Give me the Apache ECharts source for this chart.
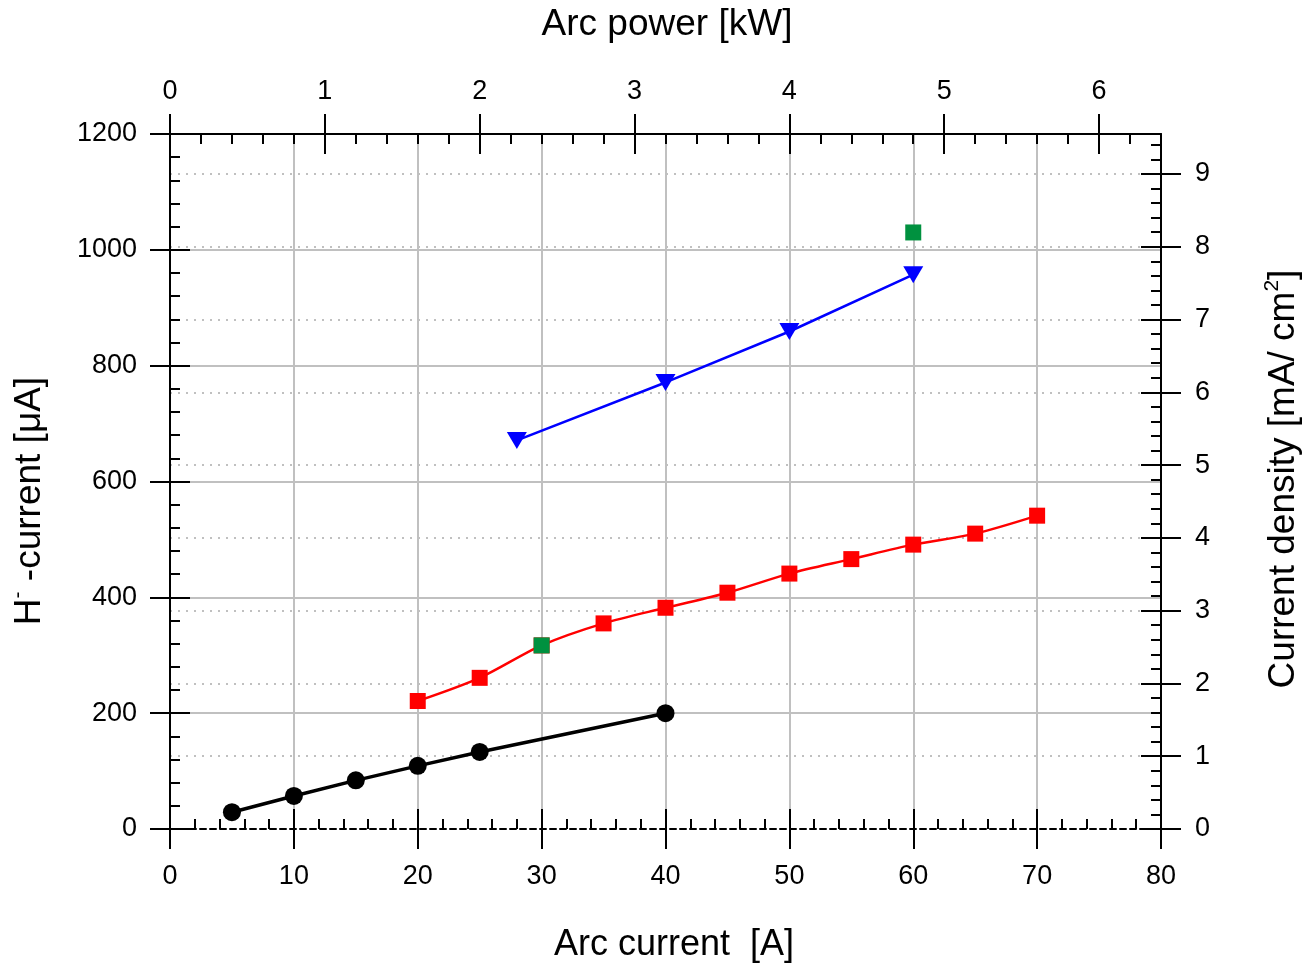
<!DOCTYPE html>
<html><head><meta charset="utf-8">
<script src="https://cdn.jsdelivr.net/npm/echarts@6/dist/echarts.min.js"></script>
<style>html,body{margin:0;padding:0;background:#fff}#c{width:1303px;height:966px}</style>
</head><body><div id="c"></div>
<script>
// ---- data ----
const arcCurrentTicks = [0, 10, 20, 30, 40, 50, 60, 70, 80];
const arcPowerTicks = [0, 1, 2, 3, 4, 5, 6];
const hCurrentTicks = [0, 200, 400, 600, 800, 1000, 1200];
const densityTicks = [0, 1, 2, 3, 4, 5, 6, 7, 8, 9];

const blackX = [5, 10, 15, 20, 25, 40];
const blackY = [29, 57, 84, 109, 133, 200];
const redX = [20, 25, 30, 35, 40, 45, 50, 55, 60, 65, 70];
const redY = [221, 261, 317, 355, 382, 408, 441, 466, 491, 510, 541];
const blueX = [28, 40, 50, 60];
const blueY = [671, 771, 859, 957];
const greenX = [30, 60];
const greenY = [317, 1030];

// axis ranges
const xMax = 80;          // A
const yMax = 1200;        // uA
const powerMax = 6.4;     // kW (80 A x 80 V)
const densityMax = 9.549; // mA/cm^2 (1200 uA / 0.1257 cm^2)

const FONT = '"Liberation Sans", Arial, sans-serif';
const zip = (a, b) => a.map((v, i) => [v, b[i]]);

function ax(o) {
  return Object.assign({
    type: 'value', z: 3,
    axisLine: { show: false, onZero: false },
    axisTick: { show: false },
    axisLabel: { show: false },
    splitLine: { show: false },
    minorTick: { show: false }
  }, o);
}
const LINE = { show: true, onZero: false, lineStyle: { color: '#000', width: 2 } };
const LBL = (m, vals) => Object.assign({ show: true, margin: m, fontSize: 27, color: '#000', fontFamily: FONT,
  formatter: v => String(v) }, vals ? { customValues: vals } : {});
const TICK = (inside, len, vals) => Object.assign({ show: true, inside: inside, length: len, lineStyle: { color: '#000', width: 2 } }, vals ? { customValues: vals } : {});
const MINOR = { show: true, splitNumber: 5, length: 10, lineStyle: { color: '#000', width: 2 } };

const xAxis = [
  // bottom main
  ax({ position: 'bottom', min: 0, max: xMax, interval: 10,
       axisLine: { show: true, onZero: false, lineStyle: { color: '#000', width: 2, type: [6, 4] } },
       axisTick: TICK(false, 20, arcCurrentTicks), axisLabel: LBL(34, arcCurrentTicks) }),
  // bottom inner + minor
  ax({ position: 'bottom', min: 0, max: xMax, interval: 10, axisTick: TICK(true, 20), minorTick: MINOR }),
  // bottom grid
  ax({ position: 'bottom', min: 0, max: xMax, interval: 10, z: 1,
       splitLine: { show: true, showMinLine: false, showMaxLine: false, lineStyle: { color: '#c0c0c0', width: 2 } } }),
  // top main
  ax({ position: 'top', min: 0, max: powerMax, interval: 1, axisLine: LINE,
       axisTick: TICK(false, 20, arcPowerTicks), axisLabel: LBL(29, arcPowerTicks) }),
  // top inner major
  ax({ position: 'top', min: 0, max: powerMax, interval: 1, axisTick: TICK(true, 20, arcPowerTicks) }),
  // top minor
  ax({ position: 'top', min: 0, max: powerMax, interval: 0.2, axisTick: TICK(true, 10) })
];

const yAxis = [
  // left main
  ax({ position: 'left', min: 0, max: yMax, interval: 200, axisLine: LINE,
       axisTick: TICK(false, 20, hCurrentTicks), axisLabel: LBL(33, hCurrentTicks) }),
  // left inner + minor
  ax({ position: 'left', min: 0, max: yMax, interval: 200, axisTick: TICK(true, 20), minorTick: MINOR }),
  // left grid
  ax({ position: 'left', min: 0, max: yMax, interval: 200, z: 1,
       splitLine: { show: true, showMinLine: false, showMaxLine: false, lineStyle: { color: '#c0c0c0', width: 2 } } }),
  // right main
  ax({ position: 'right', min: 0, max: densityMax, interval: 1, axisLine: LINE,
       axisTick: TICK(false, 20, densityTicks), axisLabel: LBL(34, densityTicks) }),
  // right inner major
  ax({ position: 'right', min: 0, max: densityMax, interval: 1, axisTick: TICK(true, 20, densityTicks) }),
  // right minor
  ax({ position: 'right', min: 0, max: densityMax, interval: 0.2, axisTick: TICK(true, 10) }),
  // right dotted grid
  ax({ position: 'right', min: 0, max: densityMax, interval: 1, z: 1,
       splitLine: { show: true, showMinLine: false, showMaxLine: false, lineStyle: { color: '#c0c0c0', width: 2, type: [2, 6] } } })
];

const option = {
  animation: false,
  backgroundColor: '#fff',
  grid: { left: 170, right: 142, top: 134, bottom: 137, containLabel: false },
  xAxis: xAxis,
  yAxis: yAxis,
  series: [
    { type: 'line', name: 'black', xAxisIndex: 0, yAxisIndex: 0, z: 5, data: zip(blackX, blackY),
      symbol: 'circle', symbolSize: 18, itemStyle: { color: '#000' }, lineStyle: { color: '#000', width: 3.5 } },
    { type: 'line', name: 'red', xAxisIndex: 0, yAxisIndex: 0, z: 5, data: zip(redX, redY), smooth: 0.3,
      symbol: 'rect', symbolSize: 16, itemStyle: { color: '#ff0000' }, lineStyle: { color: '#ff0000', width: 2.5 } },
    { type: 'line', name: 'blue', xAxisIndex: 0, yAxisIndex: 0, z: 5, data: zip(blueX, blueY),
      symbol: 'triangle', symbolRotate: 180, symbolSize: [20, 17], itemStyle: { color: '#0000ff' }, lineStyle: { color: '#0000ff', width: 2.5 } },
    { type: 'scatter', name: 'green', xAxisIndex: 0, yAxisIndex: 0, z: 6, data: zip(greenX, greenY),
      symbol: 'rect', symbolSize: 16, itemStyle: { color: '#00913f', opacity: 1 } }
  ],
  graphic: [
    { type: 'text', x: 667, y: 25, style: { text: 'Arc power [kW]', fontSize: 37, fontFamily: FONT, fill: '#000', textAlign: 'center', textVerticalAlign: 'middle' } },
    { type: 'text', x: 674, y: 945, style: { text: 'Arc current  [A]', fontSize: 36, fontFamily: FONT, fill: '#000', textAlign: 'center', textVerticalAlign: 'middle' } },
    { type: 'text', x: 30, y: 501, rotation: Math.PI / 2,
      style: { text: '{a|H}{s|-}{a| -current [μA]}', textAlign: 'center', textVerticalAlign: 'middle', fill: '#000',
        rich: { a: { fontSize: 37, lineHeight: 44, fontFamily: FONT, fill: '#000' },
                s: { fontSize: 21, lineHeight: 24, fontFamily: FONT, fill: '#000', verticalAlign: 'top' } } } },
    { type: 'text', x: 1284, y: 479, rotation: Math.PI / 2,
      style: { text: '{a|Current density [mA/ cm}{s|2}{a|]}', textAlign: 'center', textVerticalAlign: 'middle', fill: '#000',
        rich: { a: { fontSize: 37, lineHeight: 44, fontFamily: FONT, fill: '#000' },
                s: { fontSize: 21, lineHeight: 24, fontFamily: FONT, fill: '#000', verticalAlign: 'top' } } } }
  ]
};
const chart = echarts.init(document.getElementById('c'), null, { renderer: 'canvas' });
chart.setOption(option);
</script>
</body></html>
